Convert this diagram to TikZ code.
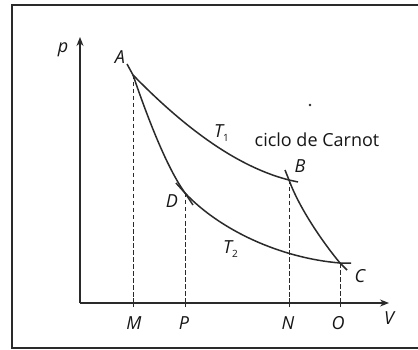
\documentclass[tikz,border=0pt]{standalone}
\usepackage{fontspec}
\setmainfont{Open Sans}
\usetikzlibrary{arrows.meta}
\definecolor{ink}{HTML}{2A2A2A}
\definecolor{tink}{HTML}{161616}
\tikzset{
  curve/.style={draw=ink,line width=1.5pt},
  axis/.style={draw=ink,line width=1.2pt,-{Stealth[length=9pt,width=7pt]}},
  guide/.style={draw=ink,line width=0.8pt,dash pattern=on 4.5pt off 2.5pt},
  tick/.style={draw=ink,line width=1pt},
  lbl/.style={text=tink,font=\fontsize{18}{18}\selectfont\itshape,inner sep=0pt},
  txt/.style={text=tink,font=\fontsize{18}{18}\selectfont,inner sep=0pt}
}
\begin{document}
\begin{tikzpicture}[x=1pt,y=-1pt]
\useasboundingbox (0,0) rectangle (418,350);
\fill[white] (0,0) rectangle (418,350);
% frame
\draw[ink,line width=2.8pt] (422,5) -- (12,5) -- (12,348) -- (422,348);
% key points
\coordinate (O0) at (80,303);
\coordinate (Ytop) at (80,37);
\coordinate (Xend) at (389,303);
\coordinate (A) at (133,75);
\coordinate (B) at (289,180);
\coordinate (C) at (340,263);
\coordinate (D) at (185,193);
\coordinate (M) at (133,303);
\coordinate (P) at (185,303);
\coordinate (N) at (289,303);
\coordinate (O) at (340,303);
\coordinate (Aext) at (127,64);
\coordinate (Bext) at (285,170);
\coordinate (Bt) at (298,182);
\coordinate (Dext) at (176,183);
\coordinate (Dt) at (193,205);
\coordinate (Cext) at (347,270);
\coordinate (Ct) at (351,263);
% axes
\draw[axis] (O0) -- (Ytop);
\draw[axis] (O0) -- (Xend);
% guides
\draw[guide] (A) -- (M);
\draw[guide] (D) -- (P);
\draw[guide] (B) -- (N);
\draw[guide] (C) -- (O);
\foreach \q in {M,P,N,O} \draw[tick] ([yshift=-4pt]\q) -- ([yshift=5pt]\q);
% isotherms
\draw[curve] (A) .. controls (175,118) and (230,165) .. (B) -- (Bt);
\draw[curve] (Dext) -- (D) .. controls (220,230) and (280,258) .. (C) -- (Ct);
% adiabats
\draw[curve] (Aext) -- (A) .. controls (145,110) and (165,165) .. (D) -- (Dt);
\draw[curve] (Bext) -- (B) .. controls (300,210) and (325,245) .. (C) -- (Cext);
% speck
\fill[ink] (310,105) circle (1.3pt);
% labels
\node[lbl] (lp) at (63,50) {p};
\node[lbl] (lA) at (120,57) {A};
\node[lbl] (lB) at (300,166) {B};
\node[lbl] (lC) at (360,276) {C};
\node[lbl] (lD) at (172,201) {D};
\node[lbl,anchor=base west] (lT1) at (214,138) {T\raisebox{-4pt}{\upshape\fontsize{10}{10}\selectfont 1}};
\node[lbl,anchor=base west] (lT2) at (223,254) {T\raisebox{-4pt}{\upshape\fontsize{10}{10}\selectfont 2}};
\node[txt] (title) at (317,140) {ciclo de Carnot};
\node[lbl] (lM) at (134,323) {M};
\node[lbl] (lP) at (184,323) {P};
\node[lbl] (lN) at (288,323) {N};
\node[lbl] (lO) at (338,323) {O};
\node[lbl] (lV) at (389,318) {V};
\end{tikzpicture}
\end{document}
